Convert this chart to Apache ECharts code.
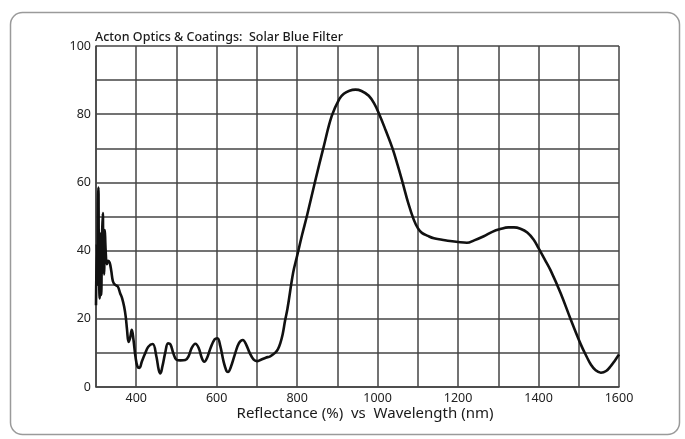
<!DOCTYPE html>
<html>
<head>
<meta charset="utf-8">
<script src="https://cdn.jsdelivr.net/npm/echarts@6/dist/echarts.min.js"></script>
<style>html,body{margin:0;padding:0;background:#fff;}#c{width:685px;height:439px;}</style>
</head>
<body>
<div id="c"></div>
<script>
const titleText = 'Acton Optics & Coatings:  Solar Blue Filter';
const axisTitle = 'Reflectance (%)  vs  Wavelength (nm)';
const xLabelValues = [400, 600, 800, 1000, 1200, 1400, 1600];
const yLabelValues = [0, 20, 40, 60, 80, 100];
const wavelength = [300,302,303,305,306,307,309,311,312,313,315,317,318,320,322,324,327,330,334,338,342,347,354,360,365,370,374,377,381,385,389,393,398,403,408,414,422,430,441,450,456,460,465,472,479,485,492,500,510,522,530,538,547,555,563,569,576,585,595,602,609,617,624,628,635,645,655,665,673,682,692,700,710,722,733,745,752,758,764,770,776,790,800,812,825,845,866,886,905,916,930,945,960,978,992,1004,1020,1037,1050,1062,1076,1090,1100,1110,1125,1140,1160,1180,1200,1222,1240,1264,1285,1305,1325,1339,1355,1372,1388,1400,1415,1430,1455,1480,1505,1520,1530,1542,1555,1568,1580,1590,1600];
const reflectance = [24,42,30,55,58.5,40,26,45,35,27,44,51,40,33,46,40,36,37,36.5,34,31,30,29.5,27.5,26,23.5,20.5,17,13.2,14.5,16.8,14,9,6,5.6,7.5,9.8,11.8,12.6,9,5,4,6,10,12.8,12.5,10,8,7.8,7.9,9,11.5,12.7,11.5,8.5,7.4,8.5,11.5,14,14.3,12,7.5,4.8,4.4,5.8,9.5,12.8,13.8,12.5,10,8,7.6,8,8.6,9,10,11,12.8,15.5,19.5,23,33.5,38.5,44.5,50.5,60.5,70.5,79.5,84.5,86,86.9,87.2,86.8,85.4,83,80,75.3,70,65,60,54,49,46.6,45.2,44.3,43.6,43.2,42.8,42.5,42.3,43,44.2,45.5,46.3,46.8,46.8,46.4,45.3,43.2,40.7,37.5,34.2,27.5,19.8,12.5,8.8,6.6,4.9,4.2,4.7,6.2,7.8,9.5];

const data = wavelength.map((w, i) => [w, reflectance[i]]);
const chart = echarts.init(document.getElementById('c'), null, {renderer: 'canvas'});
const gridLine = {show: true, lineStyle: {color: '#444', width: 1.5}};
chart.setOption({
  animation: false,
  backgroundColor: '#fff',
  grid: {left: 96, right: 66, top: 46, bottom: 52, show: false},
  xAxis: {
    type: 'value', min: 300, max: 1600, interval: 100,
    axisLine: {show: true, onZero: false, lineStyle: {color: '#444', width: 1.5}},
    axisTick: {show: false},
    splitLine: gridLine,
    axisLabel: {
      color: '#222', fontSize: 12.5, fontFamily: 'Noto Sans', margin: 5,
      formatter: v => xLabelValues.includes(v) ? String(v) : ''
    }
  },
  yAxis: {
    type: 'value', min: 0, max: 100, interval: 10,
    axisLine: {show: true, lineStyle: {color: '#444', width: 1.5}},
    axisTick: {show: false},
    splitLine: gridLine,
    axisLabel: {
      color: '#222', fontSize: 12.5, fontFamily: 'Noto Sans', margin: 5,
      formatter: v => yLabelValues.includes(v) ? String(v) : ''
    }
  },
  series: [{
    type: 'line', data: data, showSymbol: false, smooth: 0.4,
    lineStyle: {color: '#111', width: 2.6}, z: 5
  }],
  graphic: [
    {type: 'rect', left: 8, top: 10, shape: {width: 669, height: 422, r: 12},
     style: {fill: 'none', stroke: '#9a9a9a', lineWidth: 1.5}, silent: true, z: -1},
    {type: 'text', left: 95, top: 31,
     style: {text: titleText, fill: '#1a1a1a', font: '500 12.5px "Noto Sans"'}},
    {type: 'text', x: 365, y: 414,
     style: {text: axisTitle, fill: '#1a1a1a', font: '15px "Noto Sans"', align: 'center', verticalAlign: 'middle'}}
  ]
});
</script>
</body>
</html>
